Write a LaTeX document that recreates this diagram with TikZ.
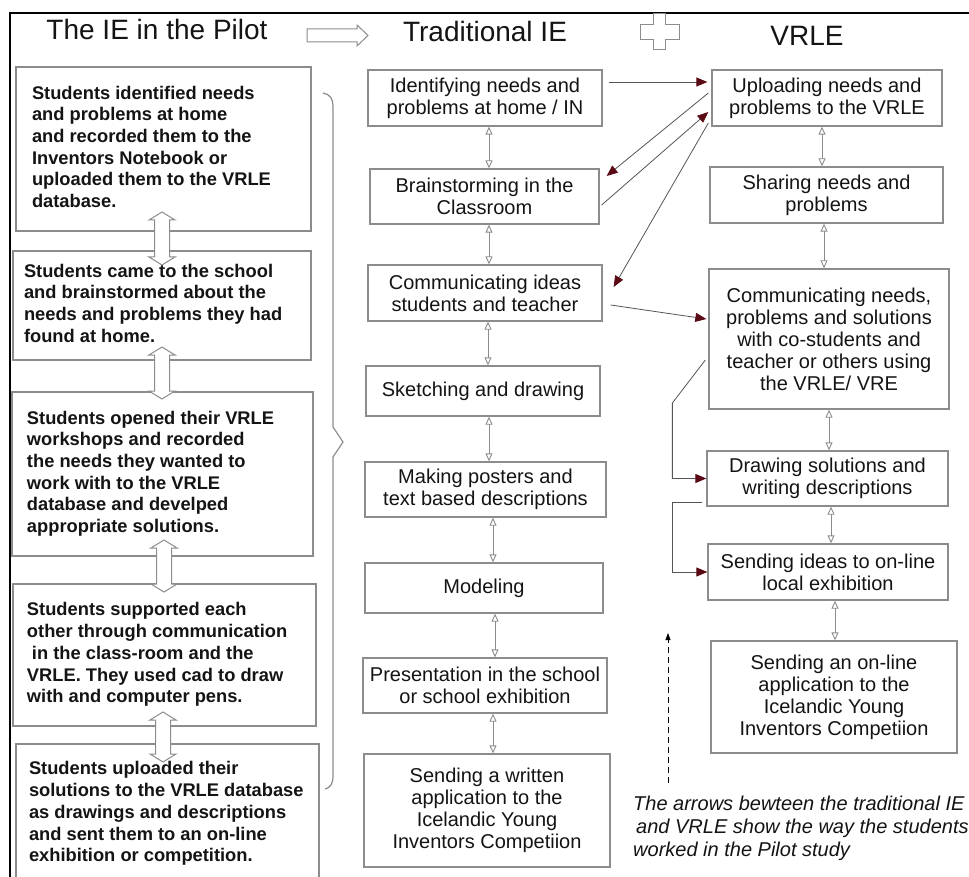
\documentclass[tikz,border=0pt]{standalone}
\usepackage{fontspec}
\setmainfont{Liberation Sans}
\usetikzlibrary{arrows.meta,calc}
\definecolor{boxgray}{HTML}{8C8C8C}
\definecolor{arrred}{HTML}{5A0A14}
\definecolor{lnk}{HTML}{555555}
\definecolor{txt}{HTML}{141414}
\newcommand\hollowarrow[3]{%
 \draw[boxgray, line width=1pt, fill=white] (#1,#2) -- ++(13,8) -- ++(-5.5,0) -- (#1+7.5,#3-8) -- ++(5.5,0) -- (#1,#3) -- ++(-13,-8) -- ++(5.5,0) -- (#1-7.5,#2+8) -- ++(-5.5,0) -- cycle;}
\newcommand\lefttext[2]{\makebox[#1pt][l]{\begin{tabular}{@{}l@{}}#2\end{tabular}}}
\begin{document}
\begin{tikzpicture}[x=1pt,y=-1pt,
 box/.style={draw=boxgray, line width=1.3pt, inner sep=0pt, align=center, text=txt, font=\fontsize{20}{22}\selectfont},
 lbox/.style={draw=boxgray, line width=1.3pt, inner sep=0pt, text=txt, font=\fontsize{18.3}{21.7}\selectfont\bfseries},
 sz/.style 2 args={minimum width=#1pt, minimum height=#2pt},
 dbl/.style={draw=boxgray, line width=0.9pt, {Triangle[open,length=8pt,width=7pt]}-{Triangle[open,length=8pt,width=7pt]}},
 redarr/.style={draw=lnk, line width=0.8pt, -{Triangle[length=11pt,width=9pt,color=arrred]}},
 title/.style={font=\fontsize{28}{30}\selectfont, text=txt, anchor=base, inner sep=0pt},
 hollow/.style={draw=boxgray, line width=1pt, fill=white},
]
\useasboundingbox (0,0) rectangle (969,877);
\clip (0,0) rectangle (969,877);
\fill[white] (0,0) rectangle (969,877);

% frame
\draw[black, line width=2pt] (10,880) -- (10,13) -- (972,13);

% titles
\node[title] (t1) at (157,40) {The IE in the Pilot};
\node[title] (t2) at (485,42) {Traditional IE};
\node[title] (t3) at (807,46) {VRLE};
\draw[hollow] (307,29) -- (357,29) -- (357,25) -- (368,35.5) -- (357,46) -- (357,42) -- (307,42) -- cycle;
\draw[hollow] (653,14) -- (665,14) -- (665,25) -- (679,25) -- (679,40) -- (665,40) -- (665,50) -- (653,50) -- (653,40) -- (640,40) -- (640,25) -- (653,25) -- cycle;

% left column
\node[lbox, sz={295}{164}] (L1) at (163.5,149) {\lefttext{263}{Students identified needs\\and problems at home\\and recorded them to the\\Inventors Notebook or\\uploaded them to the VRLE\\database.}};
\node[lbox, sz={298}{109}] (L2) at (162,305.5) {\lefttext{276}{Students came to the school\\and brainstormed about the\\needs and problems they had\\found at home.}};
\node[lbox, sz={301}{164}] (L3) at (162.5,474) {\lefttext{271}{Students opened their VRLE\\workshops and recorded\\the needs they wanted to\\work with to the VRLE\\database and develped\\appropriate solutions.}};
\node[lbox, sz={303}{142}] (L4) at (164.5,655) {\lefttext{275}{Students supported each\\other through communication\\\hspace*{5pt}in the class-room and the\\VRLE. They used cad to draw\\with and computer pens.}};
\node[lbox, sz={303}{140}] (L5) at (167.5,814) {\lefttext{277}{Students uploaded their\\solutions to the VRLE database\\as drawings and descriptions\\and sent them to an on-line\\exhibition or competition.}};

\hollowarrow{162}{212}{265}
\hollowarrow{162}{347}{399}
\hollowarrow{164}{540}{592}
\hollowarrow{163}{712}{762}

% brace
\draw[boxgray, line width=1.2pt] (323,93) .. controls (330,94) and (333,99) .. (333,106) -- (333,427) -- (343,442) -- (333,457) -- (333,776) .. controls (333,784) and (330,788) .. (325,789);

% middle column
\node[box, sz={234}{56}] (M1) at (485,98) {Identifying needs and\\problems at home / IN};
\node[box, sz={229}{55}] (M2) at (484.5,196.5) {Brainstorming in the\\Classroom};
\node[box, sz={234}{56}] (M3) at (485,293) {Communicating ideas\\students and teacher};
\node[box, sz={234}{50}] (M4) at (483,391) {Sketching and drawing};
\node[box, sz={241}{55}] (M5) at (485.5,489.5) {Making posters and\\text based descriptions};
\node[box, sz={238}{50}] (M6) at (484,588) {Modeling};
\node[box, sz={244}{55}] (M7) at (485,685.5) {Presentation in the school\\or school exhibition};
\node[box, sz={246}{113}] (M8) at (487,810.5) {Sending a written\\application to the\\Icelandic Young\\Inventors Competiion};

% right column
\node[box, sz={230}{56}] (R1) at (827,98) {Uploading needs and\\problems to the VRLE};
\node[box, sz={233}{56}] (R2) at (826.5,195) {Sharing needs and\\problems};
\node[box, sz={240}{140}] (R3) at (829,339) {Communicating needs,\\problems and solutions\\with co-students and\\teacher or others using\\the VRLE/ VRE};
\node[box, sz={241}{55}] (R4) at (827.5,478.5) {Drawing solutions and\\writing descriptions};
\node[box, sz={240}{56}] (R5) at (828,572) {Sending ideas to on-line\\local exhibition};
\node[box, sz={246}{112}] (R6) at (834,697) {Sending an on-line\\application to the\\Icelandic Young\\Inventors Competiion};

% small double arrows
\draw[dbl] ($(M1.south)+(4,0)$) -- ($(M2.north)+(4.5,0)$);
\draw[dbl] ($(M2.south)+(4.5,0)$) -- ($(M3.north)+(4,0)$);
\draw[dbl] ($(M3.south)+(3,0)$) -- ($(M4.north)+(5,0)$);
\draw[dbl] ($(M4.south)+(6,0)$) -- ($(M5.north)+(3.5,0)$);
\draw[dbl] ($(M5.south)+(7.5,0)$) -- ($(M6.north)+(9,0)$);
\draw[dbl] ($(M6.south)+(11,0)$) -- ($(M7.north)+(10,0)$);
\draw[dbl] ($(M7.south)+(8,0)$) -- ($(M8.north)+(6,0)$);
\draw[dbl] ($(R1.south)+(-5,0)$) -- ($(R2.north)+(-4.5,0)$);
\draw[dbl] ($(R2.south)+(-2.5,0)$) -- ($(R3.north)+(-5,0)$);
\draw[dbl] ($(R3.south)+(0,0)$) -- ($(R4.north)+(1.5,0)$);
\draw[dbl] ($(R4.south)+(3.5,0)$) -- ($(R5.north)+(3,0)$);
\draw[dbl] ($(R5.south)+(7,0)$) -- ($(R6.north)+(1,0)$);

% red arrows between columns
\draw[redarr] ($(M1.east)+(6,-16)$) -- ($(R1.west)+(-4,-16)$);
\draw[redarr] ($(R1.west)+(-3,-5)$) -- ($(M2.east)+(7,-20.5)$);
\draw[redarr] ($(M2.east)+(2,8.5)$) -- ($(R1.west)+(-3,14)$);
\draw[redarr] ($(R1.west)+(-3,25)$) -- ($(M3.east)+(11,-6)$);
\draw[redarr] ($(M3.east)+(8,12)$) -- ($(R3.west)+(-2,-20)$);
\draw[redarr] ($(R3.west)+(-3,21)$) -- ($(R4.west)+(-34,-75.5)$) -- ($(R4.west)+(-34,0)$) -- (R4.west);
\draw[redarr] ($(R4.west)+(-4,23.5)$) -- ($(R4.west)+(-34,23.5)$) -- ($(R5.west)+(-35,0)$) -- (R5.west);

% dashed arrow and note
\coordinate (d1) at (668,783);
\coordinate (d2) at (668,633);
\draw[black, line width=0.8pt, dash pattern=on 6pt off 4pt, -{Triangle[length=7pt,width=5pt]}] (d1) -- (d2);
\node[anchor=north west, inner sep=0pt, align=left, text=txt, font=\fontsize{20}{23}\selectfont\itshape] (note) at (633,796) {The arrows bewteen the traditional IE\\\hspace*{3pt}and VRLE show the way the students\\worked in the Pilot study};
\end{tikzpicture}
\end{document}
